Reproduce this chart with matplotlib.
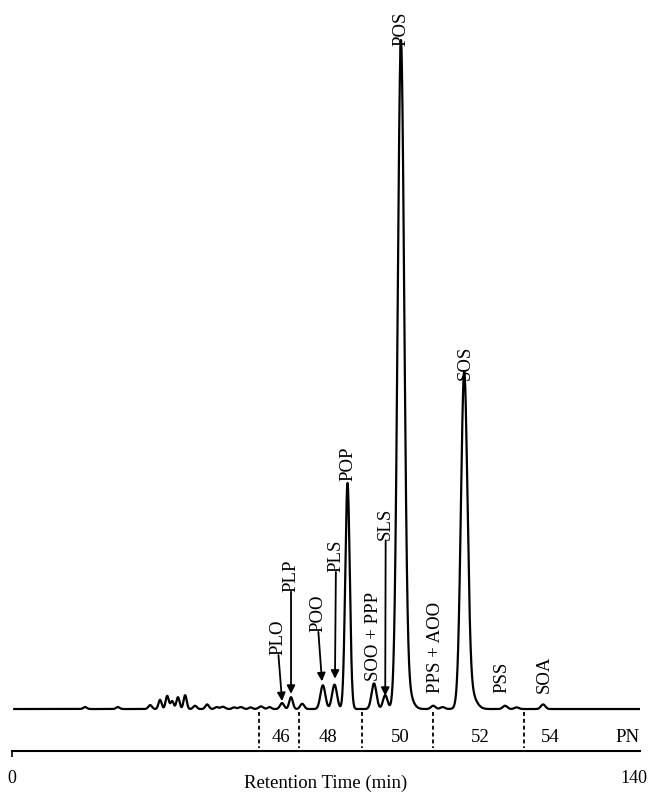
import numpy as np
import matplotlib
matplotlib.use("Agg")
import matplotlib.pyplot as plt
from matplotlib.transforms import ScaledTranslation

# ---- peak table (retention time min, height, width sigma min)
peak_times   = [16.3, 23.6, 30.8, 33.0, 34.6, 35.7, 37.0, 38.6, 40.8, 43.5, 45.6, 47.0, 49.5,
                51.0, 53.2, 55.5, 57.4, 60.2, 62.2, 64.7, 69.3, 71.9, 74.8, 80.7, 83.2, 86.7,
                87.6, 93.9, 96.0, 100.8, 101.8, 109.9, 112.5, 118.4]
peak_heights = [0.3, 0.3, 0.6, 1.4, 2.0, 1.2, 1.8, 2.1, 0.5, 0.7, 0.3, 0.35, 0.25,
                0.3, 0.25, 0.4, 0.3, 0.9, 1.8, 0.8, 3.6, 3.7, 34.3, 3.9, 2.1, 98.5,
                4.0, 0.5, 0.3, 49.0, 3.0, 0.5, 0.25, 0.7]
peak_sigmas  = [0.4, 0.4, 0.4, 0.35, 0.35, 0.35, 0.35, 0.35, 0.4, 0.4, 0.4, 0.5, 0.4,
                0.5, 0.4, 0.5, 0.4, 0.45, 0.4, 0.45, 0.55, 0.55, 0.5, 0.55, 0.5, 0.72,
                1.2, 0.5, 0.5, 0.72, 1.3, 0.5, 0.5, 0.5]

# ---- peak annotations
labels      = ["PLO", "PLP", "POO", "PLS", "POP", "SOO + PPP", "SLS", "POS", "SOS",
               "PPS + AOO", "PSS", "SOA"]
label_x     = [59.4, 62.2, 68.3, 72.2, 74.9, 80.7, 83.3, 86.6, 101.0, 94.3, 109.2, 118.6]
label_y     = [8.2, 17.8, 11.7, 20.8, 34.6, 4.3, 25.6, 100.6, 50.0, 2.4, 2.4, 2.4]
tip_x       = [60.2, 62.2, 69.1, 72.0, None, None, 83.2, 86.7, None, None, None, None]
tip_y       = [1.2, 2.3, 4.2, 4.6, None, None, 2.0, 98.0, None, None, None, None]
arrow_head  = [True, True, True, True, False, False, True, False, False, False, False, False]

# ---- partition number (PN) bands
pn_bounds  = [55.1, 64.0, 78.0, 93.9, 114.1]
pn_labels  = ["46", "48", "50", "52", "54", "PN"]
pn_label_x = [60.0, 70.4, 86.5, 104.3, 119.9, 137.3]

x_ticks = [0, 140]

W, H = 652, 794
fig = plt.figure(figsize=(W / 100, H / 100), dpi=100)
ax = fig.add_axes([12 / W, 1 - 751 / H, 628 / W, 751 / H])

t = np.linspace(0.5, 140, 6000)
signal = np.zeros_like(t)
for c, h, s in zip(peak_times, peak_heights, peak_sigmas):
    signal += h * np.exp(-0.5 * ((t - c) / s) ** 2)
ax.plot(t, signal, color="black", lw=1.6, solid_joinstyle="round")

serif = "Liberation Serif"
for lab, lx, ly, tx, ty, head in zip(labels, label_x, label_y, tip_x, tip_y, arrow_head):
    ax.text(lx, ly, lab, rotation=90, ha="center", va="bottom",
            fontsize=13.5, family=serif)
    if tx is not None:
        ax.annotate("", xy=(tx, ty), xytext=(lx, ly),
                    arrowprops=dict(arrowstyle="-|>" if head else "-",
                                    color="black", lw=1.3,
                                    mutation_scale=12, shrinkA=0, shrinkB=0))

for b in pn_bounds:
    ax.plot([b, b], [-0.5, -5.9], color="black", lw=1.3, ls=(0, (2.2, 1.6)))
for lab, lx in zip(pn_labels, pn_label_x):
    ax.text(lx, -4.25, lab, ha="center", va="center", fontsize=13.5, family=serif)

ax.set_xlim(0, 140)
ax.set_ylim(-6.37, 107.6)
for s in ["top", "right", "left"]:
    ax.spines[s].set_visible(False)
ax.spines["bottom"].set_linewidth(1.5)
ax.set_yticks([])
ax.set_xticks(x_ticks)
ax.set_xticklabels([str(v) for v in x_ticks], family=serif, fontsize=13)
ax.tick_params(axis="x", length=4, width=1.2, pad=10)
ax.xaxis.get_major_ticks()[1].tick1line.set_visible(False)
lbl140 = ax.get_xticklabels()[1]
lbl140.set_transform(lbl140.get_transform() + ScaledTranslation(-6 / 100, 0, fig.dpi_scale_trans))
ax.set_xlabel("Retention Time (min)", family=serif, fontsize=13.5)
ax.xaxis.set_label_coords(0.5, -0.032)
ax.patch.set_visible(False)

fig.savefig("out.png", dpi=100)
